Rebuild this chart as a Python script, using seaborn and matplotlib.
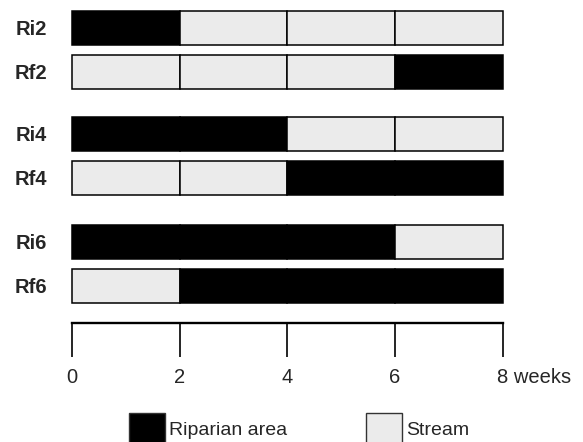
import numpy as np
import matplotlib
matplotlib.use("Agg")
import matplotlib.pyplot as plt
import matplotlib.transforms as mtransforms
from matplotlib.patches import Patch
import seaborn as sns

# treatments and where the animals were kept in each 2-week block
treatments = ["Ri2", "Rf2", "Ri4", "Rf4", "Ri6", "Rf6"]
blocks = [
    ["Riparian area", "Stream", "Stream", "Stream"],
    ["Stream", "Stream", "Stream", "Riparian area"],
    ["Riparian area", "Riparian area", "Stream", "Stream"],
    ["Stream", "Stream", "Riparian area", "Riparian area"],
    ["Riparian area", "Riparian area", "Riparian area", "Stream"],
    ["Stream", "Riparian area", "Riparian area", "Riparian area"],
]
block_weeks = 2
week_ticks = [0, 2, 4, 6, 8]
week_labels = ["0", "2", "4", "6", "8 weeks"]

colors = {"Riparian area": "black", "Stream": "#ebebeb"}

sns.set_theme(style="white")
plt.rcParams["font.family"] = ["Liberation Sans", "DejaVu Sans"]

fig = plt.figure(figsize=(5.83, 4.42), dpi=100)
ax = fig.add_axes([0.1235, 0.27, 0.7385, 0.73])

# rows come in pairs, a little extra gap between pairs
row_pos = [0, 1, 2.41, 3.41, 4.86, 5.86]

for y, seq in zip(row_pos, blocks):
    for k, hab in enumerate(seq):
        ax.barh(y, block_weeks, left=k * block_weeks, height=0.77,
                color=colors[hab], edgecolor="black", linewidth=1.1,
                clip_on=False)

ax.set_xlim(0, 8)
ax.set_ylim(6.70, -0.636)

ax.set_yticks(row_pos)
ax.set_yticklabels(treatments, fontsize=14.5, fontweight="bold")
ax.tick_params(axis="y", length=0, pad=18)

ax.set_xticks(week_ticks)
ax.set_xticklabels(week_labels, fontsize=14.5)
ax.tick_params(axis="x", direction="out", length=24.5, width=1.2,
               color="black", pad=8.5, bottom=True)
lab8 = ax.get_xticklabels()[-1]
lab8.set_horizontalalignment("left")
lab8.set_transform(lab8.get_transform() +
                   mtransforms.ScaledTranslation(-6 / 100, 0, fig.dpi_scale_trans))

sns.despine(ax=ax, left=True, top=True, right=True)
ax.spines["bottom"].set_bounds(0, 8)
ax.spines["bottom"].set_linewidth(1.7)
ax.spines["bottom"].set_color("black")
ax.grid(False)

handles = [Patch(facecolor=colors[h], edgecolor="#333333", linewidth=1.0, label=h)
           for h in ["Riparian area", "Stream"]]
fig.legend(handles=handles, loc="center", bbox_to_anchor=(0.513, 0.030),
           ncol=2, frameon=False, fontsize=14, handlelength=1.85,
           handleheight=2.1, handletextpad=0.2, columnspacing=4.1,
           borderaxespad=0, borderpad=0)

fig.savefig("out.png", dpi=100)
